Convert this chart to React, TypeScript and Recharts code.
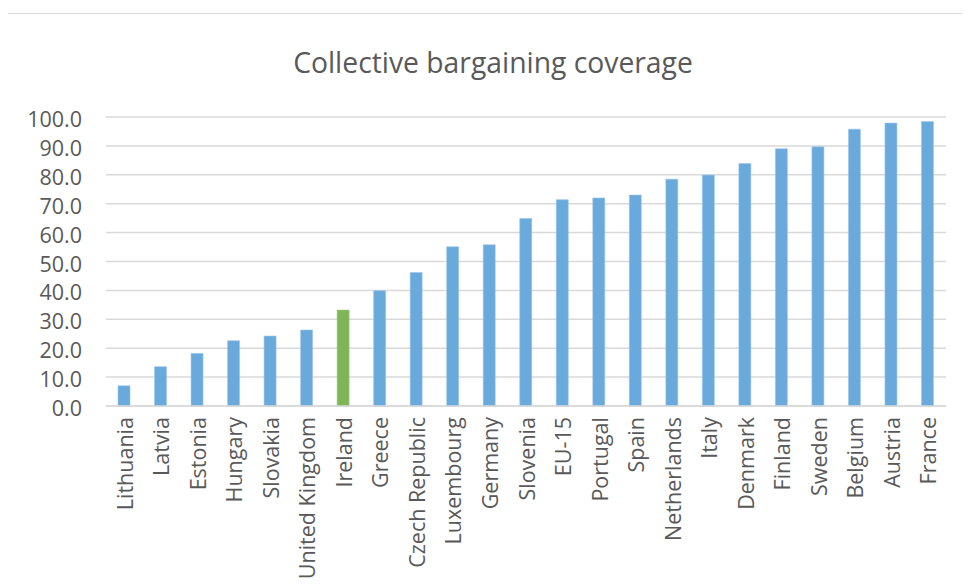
import React from "react";
import { BarChart, Bar, XAxis, YAxis, CartesianGrid, Cell } from "recharts";

const countries = [
  "Lithuania", "Latvia", "Estonia", "Hungary", "Slovakia", "United Kingdom", "Ireland",
  "Greece", "Czech Republic", "Luxembourg", "Germany", "Slovenia", "EU-15", "Portugal",
  "Spain", "Netherlands", "Italy", "Denmark", "Finland", "Sweden", "Belgium", "Austria", "France",
];
const coverage = [
  7.0, 13.6, 18.2, 22.6, 24.2, 26.3, 33.2, 39.9, 46.2, 55.1, 55.8, 64.9, 71.4, 72.0,
  73.0, 78.5, 79.9, 83.9, 89.0, 89.7, 95.8, 97.9, 98.4,
];
const yTicks = [0, 10, 20, 30, 40, 50, 60, 70, 80, 90, 100];
const highlight = "Ireland";

const data = countries.map((c, i) => ({ country: c, value: coverage[i] }));

const FONT = "'Open Sans', 'Noto Sans', sans-serif";
const TEXT = "#595959";

function YTick(props: any) {
  const { y, payload } = props;
  return (
    <text x={82} y={y} dy={10} textAnchor="end" fontSize={21.5} fill={TEXT} fontFamily={FONT}>
      {payload.value.toFixed(1)}
    </text>
  );
}

function XTick(props: any) {
  const { x, y, payload } = props;
  return (
    <text
      x={x}
      y={y}
      transform={`rotate(-90, ${x}, ${y})`}
      dx={-3}
      dy={8.5}
      textAnchor="end"
      fontSize={21.5}
      fill={TEXT}
      fontFamily={FONT}
    >
      {payload.value}
    </text>
  );
}

export default function App() {
  return (
    <div style={{ position: "relative", width: 970, height: 588, margin: -8, overflow: "hidden", background: "#fff" }}>
      <div
        style={{
          position: "absolute",
          left: 4,
          top: 13,
          width: 1000,
          height: 620,
          border: "1.5px solid #d9d9d9",
        }}
      />
      <svg width={970} height={100} style={{ position: "absolute", left: 0, top: 0 }}>
        <text x={493} y={73} textAnchor="middle" fontSize={28.3} fill={TEXT} fontFamily={FONT}>
          Collective bargaining coverage
        </text>
      </svg>
      <div style={{ position: "absolute", left: 0, top: 0 }}>
        <BarChart
          width={970}
          height={588}
          data={data}
          margin={{ top: 117, right: 24, left: 0, bottom: 0 }}
        >
          <CartesianGrid vertical={false} stroke="#d9d9d9" strokeWidth={1.5} />
          <XAxis
            dataKey="country"
            interval={0}
            height={182}
            tickLine={false}
            axisLine={{ stroke: "#d9d9d9", strokeWidth: 1.5 }}
            tick={<XTick />}
          />
          <YAxis
            width={106}
            domain={[0, 100]}
            ticks={yTicks}
            tickLine={false}
            axisLine={false}
            tick={<YTick />}
          />
          <Bar dataKey="value" isAnimationActive={false} barSize={12} strokeWidth={0.6}>
            {data.map((d) => (
              <Cell
                key={d.country}
                fill={d.country === highlight ? "#7fb556" : "#6aa9db"}
                stroke={d.country === highlight ? "#9fca80" : "#9cc6ea"}
              />
            ))}
          </Bar>
        </BarChart>
      </div>
    </div>
  );
}
